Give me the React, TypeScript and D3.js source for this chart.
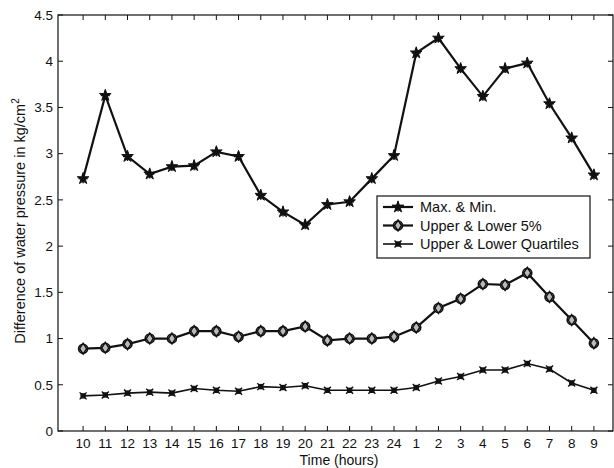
import React from "react";
import * as d3 from "d3";

const hours = ["10","11","12","13","14","15","16","17","18","19","20","21","22","23","24","1","2","3","4","5","6","7","8","9"];
const maxMin = [2.73,3.63,2.97,2.78,2.86,2.87,3.02,2.97,2.55,2.37,2.23,2.45,2.48,2.73,2.98,4.09,4.25,3.92,3.62,3.92,3.98,3.54,3.17,2.77];
const upperLower5 = [0.89,0.90,0.94,1.0,1.0,1.08,1.08,1.02,1.08,1.08,1.13,0.98,1.0,1.0,1.02,1.12,1.33,1.43,1.59,1.58,1.71,1.45,1.20,0.95];
const quartiles = [0.38,0.39,0.41,0.42,0.41,0.46,0.44,0.43,0.48,0.47,0.49,0.44,0.44,0.44,0.44,0.47,0.54,0.59,0.66,0.66,0.73,0.67,0.52,0.44];
const yTicks = [0,0.5,1,1.5,2,2.5,3,3.5,4,4.5];
const seriesNames = ["Max. & Min.", "Upper & Lower 5%", "Upper & Lower Quartiles"];

const W = 614, H = 468;
const M = { left: 58, right: 613, top: 15, bottom: 431 };
const font = "Liberation Sans, Arial, sans-serif";

function Marker({ kind, x, y }: { kind: number; x: number; y: number }) {
  if (kind === 0) {
    const star = d3.symbol().type(d3.symbolStar).size(42)();
    return (
      <g transform={`translate(${x},${y})`}>
        <path d={star || ""} fill="#111" stroke="#111" strokeWidth={1} />
        <line x1={-4.5} x2={4.5} y1={0} y2={0} stroke="#111" strokeWidth={1.5} />
        <line x1={0} x2={0} y1={-4.5} y2={4.5} stroke="#111" strokeWidth={1.5} />
      </g>
    );
  }
  if (kind === 1) {
    return (
      <g transform={`translate(${x},${y})`}>
        <circle r={4.5} fill="#bbb" stroke="#111" strokeWidth={1.6} />
        <path d="M0,-5.5L3.5,0L0,5.5L-3.5,0Z" fill="none" stroke="#111" strokeWidth={1.4} />
      </g>
    );
  }
  return (
    <g transform={`translate(${x},${y})`} stroke="#111" strokeWidth={1.4}>
      <line x1={-3.5} y1={-3.5} x2={3.5} y2={3.5} />
      <line x1={-3.5} y1={3.5} x2={3.5} y2={-3.5} />
      <rect x={-2} y={-2} width={4} height={4} fill="#111" />
    </g>
  );
}

export default function App() {
  const x = d3.scaleLinear().domain([-1.13, 23.86]).range([M.left, M.right]);
  const y = d3.scaleLinear().domain([0, 4.5]).range([M.bottom, M.top]);
  const idx = d3.range(hours.length);
  const allSeries = [maxMin, upperLower5, quartiles];
  const widths = [2.2, 2.2, 1.6];
  const line = (vals: number[]) =>
    d3.line<number>().x((_, i) => x(i)).y((v) => y(v))(vals) || "";

  const legX = 377, legY = 196, legW = 213, legH = 62;

  return (
    <svg width={W} height={H} style={{ position: "absolute", left: 0, top: 0, background: "#fff" }}>
      <rect x={0} y={0} width={W} height={H} fill="#fff" />
      <rect x={M.left} y={M.top} width={M.right - M.left} height={M.bottom - M.top} fill="none" stroke="#111" strokeWidth={1.2} />
      {yTicks.map((t) => (
        <g key={t}>
          <line x1={M.left} x2={M.left + 5} y1={y(t)} y2={y(t)} stroke="#111" />
          <line x1={M.right - 5} x2={M.right} y1={y(t)} y2={y(t)} stroke="#111" />
          <text x={M.left - 5} y={y(t)} dy="0.35em" textAnchor="end" fontFamily={font} fontSize={13.5} fill="#111">
            {String(t)}
          </text>
        </g>
      ))}
      {idx.map((i) => (
        <g key={i}>
          <line x1={x(i)} x2={x(i)} y1={M.bottom} y2={M.bottom - 5} stroke="#111" />
          <line x1={x(i)} x2={x(i)} y1={M.top} y2={M.top + 5} stroke="#111" />
          <text x={x(i)} y={M.bottom + 17} textAnchor="middle" fontFamily={font} fontSize={13.5} fill="#111">
            {hours[i]}
          </text>
        </g>
      ))}
      <text x={339} y={465} textAnchor="middle" fontFamily={font} fontSize={14} fill="#111">Time (hours)</text>
      <text transform={`translate(25,221) rotate(-90)`} textAnchor="middle" fontFamily={font} fontSize={14.5} fill="#111">
        Difference of water pressure in kg/cm<tspan dy="-6" fontSize={10}>2</tspan>
      </text>
      {allSeries.map((vals, s) => (
        <g key={s}>
          <path d={line(vals)} fill="none" stroke="#111" strokeWidth={widths[s]} />
          {vals.map((v, i) => (
            <Marker key={i} kind={s} x={x(i)} y={y(v)} />
          ))}
        </g>
      ))}
      <rect x={legX} y={legY} width={legW} height={legH} fill="#fff" stroke="#111" strokeWidth={1.2} />
      {seriesNames.map((n, s) => {
        const ly = legY + 11 + s * 18.5;
        return (
          <g key={n}>
            <line x1={legX + 6} x2={legX + 36} y1={ly} y2={ly} stroke="#111" strokeWidth={widths[s]} />
            <Marker kind={s} x={legX + 21} y={ly} />
            <text x={legX + 43} y={ly} dy="0.35em" fontFamily={font} fontSize={14.5} fill="#111">{n}</text>
          </g>
        );
      })}
    </svg>
  );
}
